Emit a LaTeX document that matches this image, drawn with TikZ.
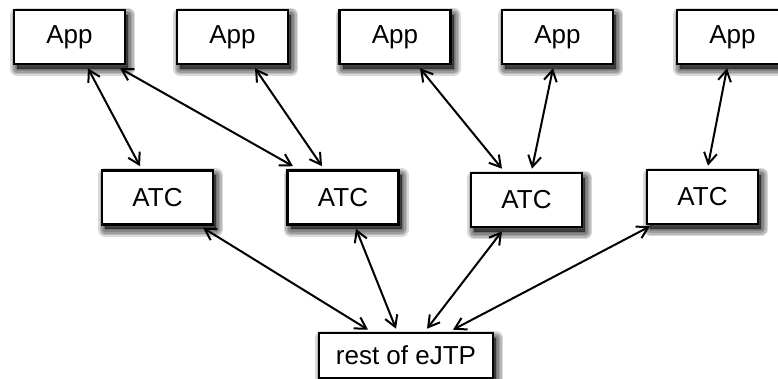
\documentclass[tikz,border=0pt]{standalone}
\usepackage{fontspec}
\setmainfont{Liberation Sans}
\usetikzlibrary{arrows.meta}
\begin{document}
\begin{tikzpicture}[x=1pt,y=-1pt,
  % one soft ring of the drop shadow
  shadowring/.style={preaction={draw=black, fill=black, line join=round,
    line width=#1, opacity=0.15,
    transform canvas={xshift=3pt,yshift=-5pt}}},
  softshadow/.style={shadowring=14pt, shadowring=11pt, shadowring=8pt,
    shadowring=5pt, shadowring=2pt},
  box/.style={softshadow, draw=black, line width=2.6pt, fill=white, inner sep=0pt,
    minimum width=111pt, minimum height=54pt,
    font=\fontsize{26}{30}\selectfont},
  link/.style={line width=2pt,
    {Straight Barb[length=11pt,width=13pt,line width=2pt]}-{Straight Barb[length=11pt,width=13pt,line width=2pt]}}]

\useasboundingbox (0,0) rectangle (778,379);

% applications
\node[box] (app1) at (69.5,37) {App};
\node[box] (app2) at (232.5,37) {App};
\node[box] (app3) at (395,37) {App};
\node[box] (app4) at (557.5,37) {App};
\node[box] (app5) at (732.5,37) {App};

% ATC layer
\node[box] (atc1) at (157.5,197.5) {ATC};
\node[box] (atc2) at (343,197.5) {ATC};
\node[box] (atc3) at (526.5,200) {ATC};
\node[box] (atc4) at (702.5,197) {ATC};

% core
\node[box, minimum width=174pt, minimum height=45pt] (rest) at (406,355.5) {rest of eJTP};

% app <-> ATC
\draw[link] ([xshift=18.5pt,yshift=-3pt]app1.south) -- ([xshift=-17.5pt,yshift=3pt]atc1.north);
\draw[link] ([xshift=50.5pt,yshift=-3pt]app1.south) -- ([xshift=-50pt,yshift=3pt]atc2.north);
\draw[link] ([xshift=22.5pt,yshift=-3pt]app2.south) -- ([xshift=-21pt,yshift=3pt]atc2.north);
\draw[link] ([xshift=25pt,yshift=-3pt]app3.south) -- ([xshift=-24.5pt,yshift=3pt]atc3.north);
\draw[link] ([xshift=-4.5pt,yshift=-3pt]app4.south) -- ([xshift=5.5pt,yshift=3pt]atc3.north);
\draw[link] ([xshift=-5.5pt,yshift=-3pt]app5.south) -- ([xshift=5.5pt,yshift=3pt]atc4.north);

% ATC <-> core
\draw[link] ([xshift=45.5pt,yshift=-2pt]atc1.south) -- ([xshift=-38pt,yshift=2pt]rest.north);
\draw[link] ([xshift=13pt,yshift=-3pt]atc2.south) -- ([xshift=-10pt,yshift=3pt]rest.north);
\draw[link] ([xshift=-24.5pt,yshift=-3pt]atc3.south) -- ([xshift=21pt,yshift=3pt]rest.north);
\draw[link] ([xshift=-52.5pt,yshift=-1pt]atc4.south) -- ([xshift=47pt,yshift=2pt]rest.north);
\end{tikzpicture}
\end{document}
